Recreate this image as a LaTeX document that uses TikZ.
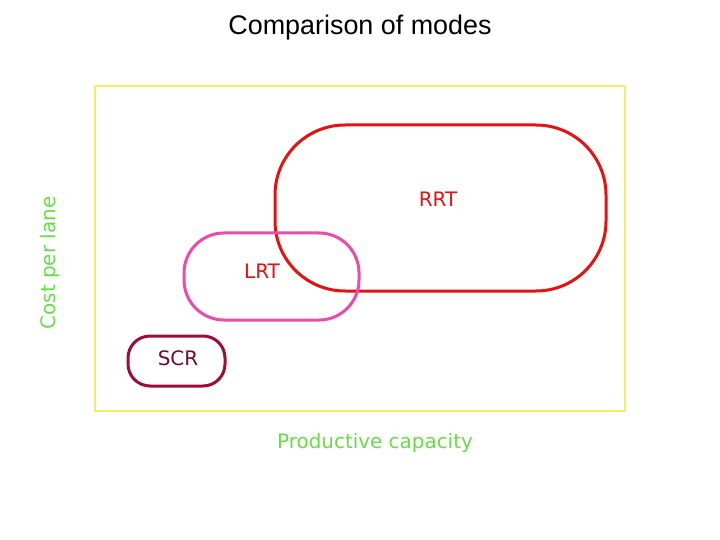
\documentclass[tikz,border=0pt]{standalone}
\usepackage{fontspec}
\setmainfont{DejaVu Sans}
\newfontfamily\titlefont{Liberation Sans}
\definecolor{rrt}{HTML}{E81010}
\definecolor{lrt}{HTML}{EE4AAA}
\definecolor{scr}{HTML}{A00C38}
\definecolor{axg}{HTML}{66DD44}
\definecolor{frame}{HTML}{F0F060}
\begin{document}
\begin{tikzpicture}[x=1bp,y=-1bp,
  mode/.style={line width=3bp},
  lbl/.style={font=\fontsize{20}{24}\selectfont}]
\useasboundingbox (0,0) rectangle (720,540);
\node[font=\titlefont\fontsize{27}{32}\selectfont] (title) at (360,28) {Comparison of modes};
\draw[frame, line width=1.2bp] (95,86) rectangle (625,411);
\draw[mode, rrt, rounded corners=70bp] (275,125) rectangle (606,291);
\node[lbl, text=rrt] (rrtl) at (438,199) {RRT};
\draw[mode, lrt, rounded corners=40bp] (184,233) rectangle (359,320);
\node[lbl, text=rrt] (lrtl) at (262,271) {LRT};
\draw[mode, scr, rounded corners=22bp] (128,336) rectangle (225,386);
\node[lbl, text=scr!70!black] (scrl) at (178,358) {SCR};
\node[lbl, text=axg, rotate=90] (ylab) at (50,263) {Cost per lane};
\node[lbl, text=axg] (xlab) at (375,443) {Productive capacity};
\end{tikzpicture}
\end{document}
